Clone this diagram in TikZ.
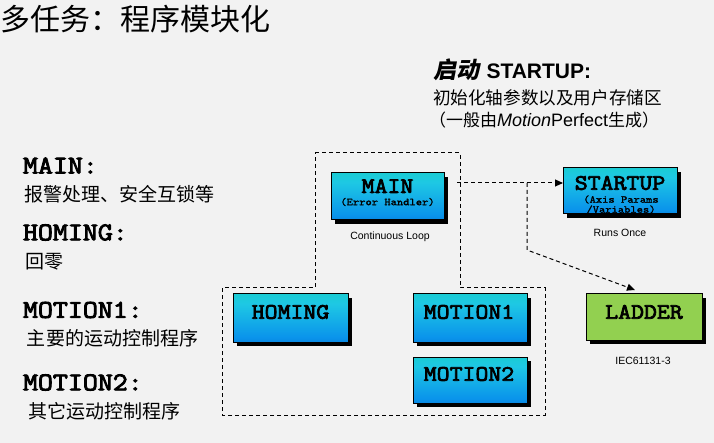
\documentclass[tikz,border=0pt]{standalone}
\usepackage{fontspec}
\setmainfont{Liberation Sans}
\newfontfamily\cjk{Noto Sans CJK SC}
\newfontfamily\cjkit[FakeSlant=0.2]{Noto Sans CJK SC}
\newfontfamily\mono[FakeStretch=1.14,FakeBold=3.5]{Latin Modern Mono}
\newfontfamily\monos[FakeStretch=1.14,FakeBold=1.6]{Latin Modern Mono}
\newfontfamily\arial{Liberation Sans}
\usetikzlibrary{arrows.meta,shadows}
\definecolor{bgc}{RGB}{242,242,242}
\definecolor{gtop}{RGB}{16,212,172}
\definecolor{gmidA}{RGB}{30,200,228}
\definecolor{gmidB}{RGB}{10,148,235}
\definecolor{gbot}{RGB}{0,80,190}
\definecolor{ladderg}{RGB}{146,208,80}
\pgfdeclareverticalshading{boxshade}{100bp}{color(0bp)=(gbot); color(30bp)=(gmidB); color(65bp)=(gmidA); color(100bp)=(gtop)}
\newcommand{\fs}[1]{\fontsize{#1}{#1}\selectfont}
\tikzset{
  every node/.style={inner sep=0pt, outer sep=0pt},
  modbox/.style={draw=black, line width=1pt, shading=boxshade,
    drop shadow={shadow xshift=4pt, shadow yshift=-4pt, fill=black, opacity=1}},
  ladbox/.style={draw=black, line width=1pt, fill=ladderg,
    drop shadow={shadow xshift=4pt, shadow yshift=-4pt, fill=black, opacity=1}},
  boxtxt/.style={font=\mono\fs{22}},
  subtxt/.style={font=\monos\fs{10.5}},
  small/.style={font=\arial\fs{10.5}},
  lefthead/.style={anchor=west, font=\mono\fs{25.5}},
  leftcjk/.style={anchor=west, font=\cjk\fs{19}},
  dashline/.style={line width=1pt, dash pattern=on 4pt off 3pt},
  arr/.style={-{Triangle[length=8pt,width=7pt]}}
}
\begin{document}
\begin{tikzpicture}[x=1pt,y=-1pt]
\fill[bgc] (0,0) rectangle (714,443);
\useasboundingbox (0,0) rectangle (714,443);

% title
\node[anchor=west, font=\cjk\fs{30}] (title) at (0,19) {多任务：程序模块化};

% top right
\node[anchor=west] (sthead) at (433,70) {{\cjkit\bfseries\fs{23}启动}\,{\arial\bfseries\fs{21} STARTUP:}};
\node[anchor=west, font=\cjk\fs{17.6}] (st1) at (433,98) {初始化轴参数以及用户存储区};
\node[anchor=west, font=\cjk\fs{17}] (st2) at (429,120) {（一般由{\arial\itshape\fs{18}Motion}{\arial\fs{18}Perfect}生成）};

% left labels
\node[lefthead] (lmain) at (23,165.5) {MAIN:};
\node[leftcjk] (lmainc) at (24,194) {报警处理、安全互锁等};
\node[lefthead] (lhom) at (23,232.5) {HOMING:};
\node[leftcjk] (lhomc) at (25,262) {回零};
\node[lefthead] (lm1) at (23,310) {MOTION1:};
\node[leftcjk] (lm1c) at (27,338) {主要的运动控制程序};
\node[lefthead] (lm2) at (23,382.5) {MOTION2:};
\node[leftcjk] (lm2c) at (28,411) {其它运动控制程序};

% container
\draw[dashline] (315,153) -- (460,153) -- (460,288) -- (545,288) -- (545,415)
  -- (222,415) -- (222,288) -- (315,288) -- cycle;

% boxes
\node[modbox, minimum width=113pt, minimum height=47pt] (main) at (387.5,196.5) {};
\node[boxtxt] (mainT) at (387.5,186) {MAIN};
\node[subtxt] (mainS) at (387.5,202) {(Error Handler)};
\node[small] (mainL) at (390,237) {Continuous Loop};

\node[modbox, minimum width=114pt, minimum height=46pt] (startup) at (620,191) {};
\node[boxtxt] (startT) at (620,183) {STARTUP};
\node[subtxt] (startS1) at (621,199.5) {(Axis Params};
\node[subtxt] (startS2) at (621,209.5) {/Variables)};
\node[small] (startL) at (620,233) {Runs Once};

\node[modbox, minimum width=115pt, minimum height=48pt] (homing) at (290.5,318) {};
\node[boxtxt] (homT) at (290.5,312) {HOMING};

\node[modbox, minimum width=114pt, minimum height=48pt] (motion1) at (470,318) {};
\node[boxtxt] (m1T) at (469,312) {MOTION1};

\node[modbox, minimum width=114pt, minimum height=46pt] (motion2) at (470,380) {};
\node[boxtxt] (m2T) at (469,374) {MOTION2};

\node[ladbox, minimum width=116pt, minimum height=46pt] (ladder) at (644,317) {};
\node[boxtxt] (ladT) at (644,312) {LADDER};
\node[small] (ladL) at (643,361) {IEC61131-3};

% connectors
\coordinate (m0) at (457,183);
\coordinate (br) at (527,183);
\coordinate (bd) at (527,250);
\coordinate (lt) at (635,290);
\draw[dashline, arr] (m0) -- (m0 -| startup.west);
\draw[dashline, arr] (br) -- (bd) -- (lt);
\end{tikzpicture}
\end{document}
